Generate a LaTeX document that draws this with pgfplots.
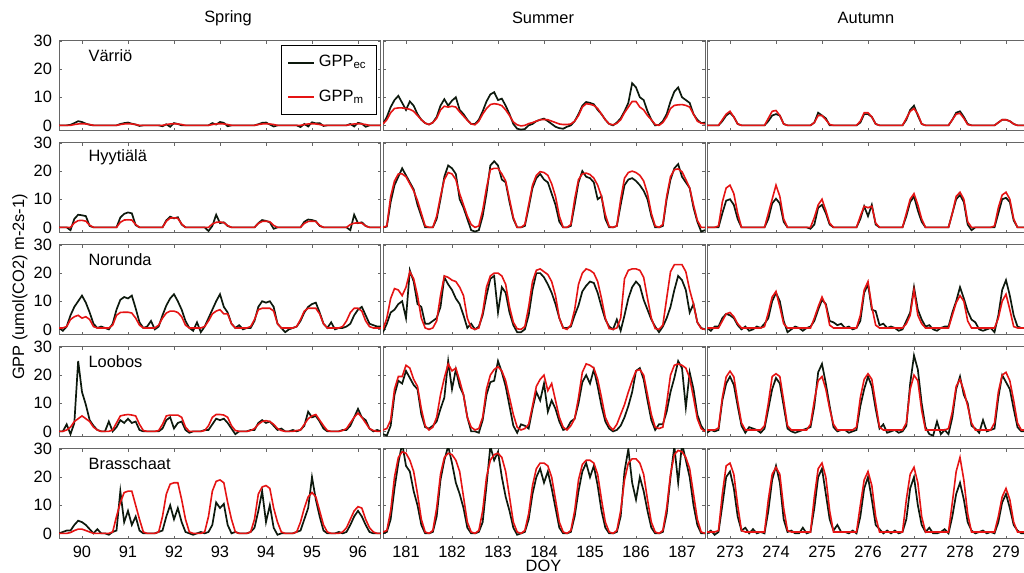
\documentclass[border=0pt]{standalone}
\usepackage{fontspec}
\setmainfont{Liberation Sans}
\usepackage{pgfplots}
\pgfplotsset{compat=1.18}
\definecolor{mred}{rgb}{0.9,0.08,0.08}
\definecolor{mblack}{rgb}{0.05,0.1,0.05}
\newcommand{\fs}{\fontsize{8.2}{9.8}\selectfont}
% one panel: #1 = first DOY of the grid (2-hour steps), #2 = GPP_ec, #3 = GPP_m
\newcommand{\panel}[3]{%
  \addplot[mblack,line width=0.85pt] table[header=false,row sep=\\,x expr=\coordindex/12+#1,y index=0]{#2};
  \addplot[mred,line width=0.8pt] table[header=false,row sep=\\,x expr=\coordindex/12+#1,y index=0]{#3};
}
\pgfplotsset{
  pan/.style={scale only axis,width=161pt,height=45pt,anchor=north west,
    ymin=-2,ymax=30,ytick={0,10,20,30},
    tick align=inside,major tick length=1.5pt,
    axis line style={black!60,line width=0.5pt},
    every tick/.style={black!60,line width=0.4pt},
    tick label style={font=\fs},
    /pgf/number format/assume math mode=true,
    clip=true},
  nox/.style={xticklabels={}},
  noy/.style={yticklabels={}},
  sp/.style={xmin=89.5,xmax=96.5,xtick={90,...,96}},
  su/.style={xmin=180.5,xmax=187.5,xtick={181,...,187}},
  au/.style={xmin=272.5,xmax=279.5,xtick={273,...,279}},
}
\begin{document}
\begin{tikzpicture}
\useasboundingbox (0,0) rectangle (512pt,286.5pt);

% ---------------- Varrio ----------------
\begin{axis}[pan,sp,nox,at={(29.5pt,266pt)},
  legend style={at={(0.988,0.956)},anchor=north east,draw=black,line width=0.5pt,
    font=\fs,row sep=6pt,inner xsep=3pt,inner ysep=3pt,cells={anchor=west}},
  legend image code/.code={\draw[#1] (0pt,0pt) -- (13pt,0pt);}]
\panel{89.5}{
0\\0\\0\\0.2\\0.8\\1.5\\1.2\\0.6\\0.2\\0\\0\\0\\
0\\0\\0\\0\\0.5\\0.8\\1\\0.6\\0.3\\-0.2\\0\\0\\
0\\0\\0\\-0.3\\0.4\\-0.5\\0.8\\0.5\\0\\0\\0\\0\\
0\\0\\0\\0\\0.8\\0.3\\1.2\\0.9\\-0.3\\0\\0\\0\\
0\\0\\0\\0\\0.4\\0.9\\1\\0.3\\-0.4\\0\\0\\0\\
0\\0\\0\\-0.6\\0.5\\-0.4\\1.1\\0.7\\0.8\\-0.2\\0\\0\\
0\\0\\0\\0\\0.5\\-0.4\\0.9\\0.6\\-0.5\\0\\0\\0\\
0\\}{
0\\0\\0\\0\\0.3\\0.5\\0.6\\0.5\\0.3\\0\\0\\0\\
0\\0\\0\\0\\0.3\\0.5\\0.6\\0.5\\0.3\\0\\0\\0\\
0\\0\\0\\0\\0.3\\0.5\\0.6\\0.5\\0.3\\0\\0\\0\\
0\\0\\0\\0\\0.3\\0.5\\0.6\\0.5\\0.3\\0\\0\\0\\
0\\0\\0\\0\\0.3\\0.5\\0.6\\0.5\\0.3\\0\\0\\0\\
0\\0\\0\\0\\0.3\\0.5\\0.6\\0.5\\0.3\\0\\0\\0\\
0\\0\\0\\0\\0.3\\0.5\\0.6\\0.5\\0.3\\0\\0\\0\\
0\\}
\legend{GPP\textsubscript{ec},GPP\textsubscript{m}}
\node[anchor=west,font=\fs] at (rel axis cs:0.07,0.84) {Värriö};
\end{axis}

\begin{axis}[pan,su,nox,noy,at={(191.5pt,266pt)}]
\panel{180.5}{
0.5\\3\\6.5\\9\\10.5\\8\\5.5\\8.5\\7\\4\\2\\0.8\\
0.3\\1\\3\\7\\9.3\\7\\8.8\\10\\5.5\\4\\2\\0.5\\
0.5\\2\\5\\8.5\\11\\11.8\\9\\9.5\\7\\4\\0.5\\-1.2\\
-1.5\\-1.3\\0\\0.5\\1.5\\2\\2.4\\1.5\\0.5\\-0.5\\-1\\-1.2\\
-0.5\\0\\1.5\\4\\7\\8.3\\8\\7.5\\5.5\\4\\2\\0.5\\
0\\1\\2.5\\5\\8\\15\\13.5\\10\\9\\5\\2\\0\\
0.2\\1.5\\4\\8.5\\12\\13.5\\10\\9\\8\\4\\2\\0.8\\
1\\}{
0.5\\2\\4.5\\6\\6.2\\6.2\\6\\5.7\\5\\3.5\\2\\0.8\\
0.3\\1\\2.5\\5.5\\6.8\\6.5\\6.8\\6.5\\4.8\\3.3\\1.8\\0.5\\
0.2\\1.5\\4\\6\\7.4\\7.7\\7.5\\7\\5.5\\3.5\\1.2\\0.2\\
-0.2\\0\\0.6\\1\\1.5\\2\\2.1\\2\\1.5\\1\\0.5\\0.3\\
0.3\\0.5\\1.5\\3.5\\6.5\\7.7\\7.5\\7.1\\6\\4\\2\\0.5\\
0.2\\0.7\\2\\4.5\\6.5\\8.5\\8.5\\6.5\\5.5\\3.5\\2\\0.3\\
0\\1\\3\\6\\7.1\\7.3\\7.4\\7.1\\6.5\\4\\1.5\\0.8\\
0.5\\}
\end{axis}

\begin{axis}[pan,au,nox,noy,at={(353.5pt,266pt)}]
\panel{272.5}{
0\\0\\0\\0\\1.5\\3.5\\4.5\\3\\0.5\\0\\0\\0\\
0\\0\\0\\0\\1.5\\3.5\\4\\3.5\\0.5\\0\\0\\0\\
0\\0\\0\\0\\1\\4.5\\3.5\\2.5\\0\\0\\0\\0\\
0\\0\\0\\0\\1\\4\\4\\3\\0.5\\0\\0\\0\\
0\\0\\0\\0\\2\\5.5\\7\\3.5\\0.5\\0\\0\\0\\
0\\0\\0\\0\\2\\4.5\\5\\3\\0.5\\0\\0\\0\\
0\\0\\0\\0\\1\\2\\2\\1.5\\0.5\\0\\0\\0\\
0\\}{
0\\0\\0\\0\\2\\4\\5\\3\\0.5\\0\\0\\0\\
0\\0\\0\\0\\2.5\\5\\5.3\\3.5\\0.5\\0\\0\\0\\
0\\0\\0\\0\\1\\3.5\\3.5\\2\\0.3\\0\\0\\0\\
0\\0\\0\\0\\1.5\\4.5\\4.5\\3\\0.5\\0\\0\\0\\
0\\0\\0\\0\\2.5\\5\\6\\4\\0.5\\0\\0\\0\\
0\\0\\0\\0\\2\\4\\4.3\\2.5\\0.3\\0\\0\\0\\
0\\0\\0\\0\\1\\2\\2\\1.5\\0.5\\0\\0\\0\\
0\\}
\end{axis}

% ---------------- Hyytiala ----------------
\begin{axis}[pan,sp,nox,at={(29.5pt,215pt)}]
\panel{89.5}{
0\\0\\0\\-1\\3\\4.5\\4.3\\4\\0.5\\0\\0\\0\\
0\\0\\0\\0\\3.5\\4.8\\5.3\\5\\0.8\\0\\0\\0\\
0\\0\\0\\0\\2.5\\3.8\\3.2\\3.6\\1\\0\\0\\0\\
0\\0\\0\\-1.3\\0.5\\4.5\\1.5\\1.8\\0.5\\0\\0\\0\\
0\\0\\0\\0\\1.5\\2.6\\2.3\\1.8\\-0.5\\0\\0\\0\\
0\\0\\0\\0\\2\\2.8\\2.6\\2.2\\0.5\\0\\0\\0\\
0\\0\\0\\0\\-1\\4.5\\1.5\\1.8\\0.5\\0\\0\\0\\
0\\}{
0\\0\\0\\0\\1.6\\2.4\\2.5\\2.2\\0.8\\0\\0\\0\\
0\\0\\0\\0\\1.8\\2.6\\2.7\\2.6\\1\\0\\0\\0\\
0\\0\\0\\0\\2.2\\3.3\\3.4\\3.2\\1.2\\0\\0\\0\\
0\\0\\0\\0\\1.2\\1.8\\1.9\\1.7\\0.6\\0\\0\\0\\
0\\0\\0\\0\\1.4\\2.1\\2.2\\2\\0.7\\0\\0\\0\\
0\\0\\0\\0\\1.4\\2.1\\2.2\\2.1\\0.7\\0\\0\\0\\
0\\0\\0\\0\\1\\1.5\\1.6\\1.5\\0.5\\0\\0\\0\\
0\\}
\node[anchor=west,font=\fs] at (rel axis cs:0.07,0.84) {Hyytiälä};
\end{axis}

\begin{axis}[pan,su,nox,noy,at={(191.5pt,215pt)}]
\panel{180.5}{
0\\0.3\\9\\15\\18\\21\\18.5\\16\\13.5\\8\\4\\0\\
0\\0\\3\\10\\18\\22\\21\\19\\10\\7\\3\\-1\\
-1.5\\-1\\4\\12\\22\\23.5\\22\\17\\16\\9\\3\\0\\
0\\0.5\\7\\14\\17.5\\19\\17\\16\\12\\8\\2\\0\\
0\\0.5\\8\\16\\20\\18\\17.5\\16\\10\\11\\3\\0\\
0\\0.5\\8\\15\\17\\17.5\\16.5\\15\\13\\10\\4\\0\\
0\\0.5\\10\\17\\21\\22.5\\18\\16\\14\\7\\2\\-1.5\\
-1\\}{
0\\0.5\\11\\16.5\\19\\19\\18\\15.5\\13\\9.5\\5\\0.5\\
0\\0\\4\\11\\17\\19.5\\19\\17\\12\\8\\4\\1\\
0\\0.5\\6\\14\\20.5\\21\\21\\19\\16.5\\10\\3.5\\0\\
0\\1\\8\\15\\18.5\\19.8\\19.5\\18.5\\15.5\\11\\4\\0\\
0\\1\\10\\17\\19\\19.3\\18.8\\17.5\\15\\11\\4.5\\0.3\\
0\\0.5\\10\\17.5\\19.5\\20\\19.5\\18.5\\16.5\\12\\5\\0.5\\
0\\1\\11\\18\\20.5\\20.8\\19.8\\17\\14\\8\\2.5\\0\\
0\\}
\end{axis}

\begin{axis}[pan,au,nox,noy,at={(353.5pt,215pt)}]
\panel{272.5}{
0\\0\\0\\0\\5\\9.5\\10\\8\\3\\0\\0\\0\\
0\\0\\0\\0\\3\\8.5\\10.2\\8.5\\2\\0\\0\\0\\
0\\0\\0\\-0.5\\1\\7\\8\\5\\1\\0\\0\\0\\
0\\0\\0\\0\\3\\7.5\\4\\8\\1\\0\\0\\0\\
0\\0\\0\\0\\4\\9\\11\\6\\2\\0\\0\\0\\
0\\0\\0\\0\\5\\10\\11.5\\9\\1\\-1\\0\\0\\
0\\0\\0\\0\\5\\10\\10.5\\9\\2.5\\0\\0\\0\\
0\\}{
0\\0\\0\\0.5\\9\\14\\15\\12\\5\\0\\0\\0\\
0\\0\\0\\0\\5\\10\\15\\11\\3\\0\\0\\0\\
0\\0\\0\\0\\3.5\\8\\10\\6\\1.5\\0\\0\\0\\
0\\0\\0\\0\\4\\7.5\\7\\7.5\\1.5\\0\\0\\0\\
0\\0\\0\\0\\5\\10\\12\\8\\3\\0\\0\\0\\
0\\0\\0\\0\\5\\11\\12.5\\10\\2\\0\\0\\0\\
0\\0\\0\\0.5\\7\\11.5\\12.5\\10\\3\\0\\0\\0\\
0\\}
\end{axis}

% ---------------- Norunda ----------------
\begin{axis}[pan,sp,nox,at={(29.5pt,164pt)}]
\panel{89.5}{
0.5\\-0.5\\1\\5\\8\\10\\12\\9.5\\6\\2\\0.5\\1\\
0.5\\0\\2\\7\\10.5\\11.5\\11\\12\\7.5\\2.5\\0.5\\1\\
3\\0\\1\\5\\8.5\\11\\12.5\\10\\7\\3\\0.5\\-0.5\\
2.5\\-1\\1\\4\\7\\10\\12.5\\8\\6\\2\\0.5\\1.5\\
0\\0.5\\0.5\\3\\8\\10\\9.5\\10\\8\\2\\0.5\\-1\\
0\\0.5\\1\\3\\6\\8\\9\\9.5\\6\\2\\0.5\\2.5\\
0\\0.5\\0.5\\1\\2\\5\\7\\8\\5\\2\\1.5\\1\\
1\\}{
0.5\\0.5\\1\\3.5\\4.5\\5\\4\\4.5\\3.5\\1\\0.5\\0.5\\
0.5\\0.5\\1.5\\5\\6\\6.1\\6.1\\5.8\\4\\1.5\\0.5\\0.5\\
0.5\\0.5\\1.5\\4\\5.8\\6.5\\6.5\\6\\4.5\\1.5\\0.5\\0.5\\
0.5\\0.5\\1\\3\\5.5\\6.5\\7\\5.5\\5.5\\2\\0.5\\0.5\\
0.5\\0.5\\1\\3.5\\7\\7.5\\7.5\\7.5\\6.5\\2\\0.5\\0.5\\
0.5\\0.5\\1\\3.5\\6.5\\7.5\\7.5\\7.5\\5.5\\2\\0.5\\0.5\\
0.5\\0.5\\1\\3\\6\\7.5\\7.5\\6.5\\3\\1\\0.5\\0.5\\
0.5\\}
\node[anchor=west,font=\fs] at (rel axis cs:0.07,0.84) {Norunda};
\end{axis}

\begin{axis}[pan,su,nox,noy,at={(191.5pt,164pt)}]
\panel{180.5}{
-1\\2\\6\\7\\9\\10\\4\\21\\17\\9\\8\\2\\
2\\3\\4\\8\\18.5\\16\\14\\11\\9\\5\\0.5\\2\\
0\\1\\5\\12\\18\\19\\6\\15\\13\\6\\1.5\\-1\\
-1\\0\\5\\14\\20\\20\\18.5\\16\\13\\9\\4\\0.5\\
0.5\\1\\5\\8.5\\13.5\\15.5\\17\\16.5\\13\\8\\3.5\\1\\
0\\3.5\\-0.5\\5\\11\\15\\17\\15.5\\10.5\\7\\3.5\\1\\
-1\\1\\4\\8\\14\\19\\17.5\\14\\6\\9\\2.5\\0.5\\
0\\}{
0\\4\\11\\14.5\\14\\12\\15\\20.5\\18\\12\\4\\0.5\\
0\\0.5\\3\\12\\19\\18.5\\17.5\\17\\15\\12\\4\\0.5\\
0\\0.5\\6\\15\\19\\20\\20\\19\\16\\8\\2.5\\0.2\\
0\\1\\8\\17\\21\\21.5\\20.5\\19.5\\17\\12\\4\\0.5\\
0\\1.5\\7\\16\\20\\21.5\\21\\20\\17\\11\\4\\0.3\\
0\\0.5\\4\\18\\21\\21.5\\21.5\\21\\18.5\\11\\4\\0.3\\
0\\1.5\\11\\20.5\\23\\23\\23\\20.5\\14\\9\\2.5\\0.3\\
0\\}
\end{axis}

\begin{axis}[pan,au,nox,noy,at={(353.5pt,164pt)}]
\panel{272.5}{
0.5\\-0.5\\1\\1\\4\\5.5\\5\\4\\1.5\\0\\1\\-0.5\\
0\\1\\0.5\\2\\4\\10\\13\\10\\3\\-1\\0\\1\\
0.5\\-0.5\\0.5\\1\\3\\7\\10.5\\9\\3\\2.5\\1.5\\2\\
0.5\\1\\0\\0.5\\3\\13\\16\\7\\6.5\\1.5\\2\\0.5\\
1\\0.5\\-0.5\\0\\3\\6\\15\\7\\3.5\\1\\1.5\\0\\
-0.5\\0.5\\1\\1\\6\\10\\15\\11\\6.5\\3.5\\2.5\\0\\
-0.5\\0\\0.5\\-1\\5\\14\\17.5\\12\\5\\1\\0.5\\0.5\\
0.5\\}{
0.5\\0.5\\0.5\\0.5\\3\\5.5\\6\\4.5\\2\\0.5\\0.5\\0.5\\
0.5\\0.5\\0.5\\1\\6\\11.5\\13.5\\8\\2\\0.5\\0.5\\0.5\\
0.5\\0.5\\0.5\\0.5\\4\\8\\11.5\\8.5\\1.5\\0.5\\0.5\\0.5\\
0.5\\0.5\\0.5\\0.5\\5\\14\\17\\8\\1.5\\0.5\\0.5\\0.5\\
0.5\\0.5\\0.5\\0.5\\2\\5\\14\\5\\2\\0.5\\0.5\\0.5\\
0.5\\0.5\\0.5\\0.5\\5\\9.5\\12\\10\\3\\0.5\\0.5\\0.5\\
0.5\\0.5\\0.5\\0.5\\4\\10\\12.5\\7\\1\\0.5\\0.5\\0.5\\
0.7\\}
\end{axis}

% ---------------- Loobos ----------------
\begin{axis}[pan,sp,nox,at={(29.5pt,113pt)}]
\panel{89.5}{
0\\0\\2.5\\-1\\3\\25\\14\\9.5\\4\\2\\0.5\\0\\
0\\3.5\\0\\1.5\\4\\3\\4.5\\3\\3.5\\0.5\\0\\0\\
0\\0\\0\\1\\4\\5\\1\\3\\3.5\\0.5\\-0.5\\0\\
0\\0\\0.5\\0.5\\2.5\\4.5\\4\\4.5\\3\\1\\-1\\0\\
0\\0\\0.5\\0.5\\3\\4\\3\\3.5\\2\\0.5\\1\\0\\
0\\0.5\\0\\0.5\\2\\7\\5\\5.5\\3.5\\1\\0\\0\\
0\\0\\0.5\\0.5\\2\\5\\8\\5\\4\\1\\0\\0.5\\
0\\}{
0\\0\\0.5\\1.5\\3.5\\4.5\\5.5\\4.5\\3.5\\1.5\\0.5\\0\\
0\\0\\0.5\\3\\5.5\\5.8\\6\\5.8\\5.5\\2.5\\0.3\\0\\
0\\0\\0.3\\2.5\\5.5\\5.8\\5.8\\5.8\\5\\1.5\\0\\0\\
0\\0\\0.3\\2\\5\\6\\6\\5.8\\5\\2\\0.3\\0\\
0\\0\\0.3\\1\\2.5\\3.5\\3.8\\3.5\\2.5\\1\\0.3\\0\\
0\\0\\0.3\\0.5\\2.5\\4.5\\5.5\\6\\4\\2\\0.3\\0\\
0\\0\\0.3\\1\\3\\5\\6.5\\5\\3\\1\\0.3\\0\\
0\\}
\node[anchor=west,font=\fs] at (rel axis cs:0.07,0.84) {Loobos};
\end{axis}

\begin{axis}[pan,su,nox,noy,at={(191.5pt,113pt)}]
\panel{180.5}{
-1\\-1.5\\2\\13\\18\\17\\21.5\\19\\16.5\\15\\6\\1.5\\
1\\2\\3.5\\8\\12\\25\\15\\22\\16\\13\\5\\0\\
0\\-0.5\\4\\13\\17.5\\18\\25\\21\\16\\9\\2\\-0.5\\
2.5\\2\\1\\8\\14\\11\\17\\7\\11\\8\\3.5\\0.5\\
1\\3.5\\4.5\\10\\17.5\\20\\17\\22\\16\\9\\3.5\\1\\
0\\0.5\\2\\5\\9\\14\\21.5\\22.5\\18.5\\11\\4\\0.5\\
2.5\\2.5\\7\\14\\19\\25\\22.5\\8.5\\21\\15\\6\\2\\
0\\}{
0.5\\1\\4\\15\\19.5\\19.5\\23.5\\22.5\\18.5\\16\\8\\2\\
0.5\\1.5\\5\\13\\19\\24\\21.5\\22.5\\18\\13\\5\\1.5\\
0.5\\1\\5\\15\\20\\22\\23\\21.5\\18\\12\\6\\1.5\\
0.5\\1\\2.5\\9\\16\\18.5\\20\\14.5\\17\\11\\5\\1.5\\
0.5\\2\\4.5\\12\\21\\24\\23.5\\22.5\\18.5\\12\\5\\2\\
0.5\\2.5\\6\\9.5\\14\\18\\21.5\\22\\20\\13\\6\\1.5\\
1\\1.5\\10\\20\\23.5\\24\\23.5\\22.5\\19\\12\\4.5\\1\\
0\\}
\end{axis}

\begin{axis}[pan,au,nox,noy,at={(353.5pt,113pt)}]
\panel{272.5}{
-0.5\\0.5\\0\\0.5\\11\\17\\19.5\\16.5\\9\\2\\-0.5\\1.5\\
1\\0.5\\-0.5\\1\\8\\15\\19\\17\\9\\1\\0\\-0.5\\
0\\0.5\\1\\1.5\\9\\21\\24\\17\\9\\1.5\\0\\0.5\\
0.5\\-0.5\\0\\0.5\\9\\15\\19.5\\16\\8\\1\\2.5\\-0.5\\
0\\0.5\\-0.5\\0\\2\\17\\27\\22\\10\\1.5\\-1\\-1.5\\
3.5\\-1\\0.5\\-1\\5\\15\\19.5\\13\\10\\2\\1\\-0.5\\
4\\0\\0.5\\1\\12\\20\\17.5\\15\\8\\1.5\\0\\0\\
0\\}{
0.5\\0.5\\0.5\\1.2\\12\\19.4\\21.4\\19.4\\10.8\\3\\0.5\\0.5\\
0.5\\0.5\\0.5\\2\\10\\19.5\\20.5\\19.5\\11\\2\\0.5\\0.5\\
0.5\\0.5\\0.5\\2.5\\11\\18\\19.5\\15\\8\\2.5\\0.5\\0.5\\
0.5\\0.5\\0.5\\1.5\\12\\18.5\\20.5\\18.5\\10\\1.5\\0.5\\0.5\\
0.5\\0.5\\0.5\\0.5\\3\\15\\20\\18\\7.5\\0.5\\0.5\\0.5\\
0.5\\0.5\\0.5\\1\\7\\16\\18.5\\14.5\\9\\3\\0.5\\0.5\\
0.5\\0.5\\0.5\\3\\14\\20\\21\\18\\11\\3\\0.5\\0.5\\
0.5\\}
\end{axis}

% ---------------- Brasschaat ----------------
\begin{axis}[pan,sp,at={(29.5pt,62pt)}]
\panel{89.5}{
0\\0.5\\1\\1\\3\\4.5\\4\\3\\1.5\\0\\1.5\\0\\
0\\-0.5\\0.5\\1\\15\\4\\8\\3\\6\\1\\0\\0\\
0\\0\\0.5\\1\\6\\10\\5\\9\\4\\0.5\\0\\-0.5\\
0\\0.5\\0\\0.5\\3\\11\\9\\10.5\\3\\0\\0.5\\0\\
0\\0\\0.5\\2\\8\\15\\4\\10\\2\\-0.5\\0\\0\\
0\\0\\0.5\\1\\5\\9\\20\\12\\6\\1\\0\\0\\
0\\0.5\\0\\0.5\\3\\6\\8\\6\\3\\0.5\\0\\0\\
0\\}{
0\\0\\0\\0.3\\1\\1.5\\1.5\\1\\0.5\\0\\0\\0\\
0\\0\\0.5\\6\\11\\14.5\\15\\15\\10\\5\\0.5\\0\\
0\\0\\0.5\\6\\14\\17.5\\18\\18\\12\\5\\0.5\\0\\
0\\0\\0.5\\6\\15\\18.5\\19\\18\\11\\5\\0.5\\0\\
0\\0\\0.5\\5\\14\\16.5\\17\\16\\9\\4\\0.5\\0\\
0\\0\\0.5\\4\\9\\13\\14.5\\13\\8\\3\\0.5\\0\\
0\\0\\0.5\\2\\5\\8\\9.5\\9\\5\\2\\0.5\\0\\
0\\}
\node[anchor=west,font=\fs] at (rel axis cs:0.07,0.84) {Brasschaat};
\end{axis}

\begin{axis}[pan,su,noy,at={(191.5pt,62pt)}]
\panel{180.5}{
0\\0.5\\5\\16\\25\\32\\24\\22\\15\\10\\3\\0\\
0\\0.5\\6\\19\\26\\31\\25\\18\\14\\9\\2\\0\\
0\\0.5\\4\\17\\31\\26\\29\\20\\13\\8\\2\\-0.5\\
0\\0.5\\5\\14\\20\\23\\18\\22\\16\\9\\2\\0\\
0\\0.5\\6\\15\\22\\25\\20\\24\\17\\8\\2\\0\\
0\\0.5\\6\\22\\30\\18\\12\\20\\15\\8\\2\\0\\
0\\0.5\\7\\20\\31\\18\\32\\26\\20\\10\\3\\0\\
0\\}{
0.5\\1\\8\\20\\27\\29\\28.5\\26\\22\\14\\5\\0.5\\
0\\1\\9\\21\\27\\28.5\\28\\26\\22\\13\\4\\0.5\\
0\\1\\8\\20\\26\\28\\28.5\\27\\22\\13\\4\\0.5\\
0\\1\\7\\17\\23\\25\\25\\24\\20\\12\\4\\0.5\\
0\\1\\8\\19\\24.5\\26\\26\\25\\21\\12\\4\\0.5\\
0\\1\\8\\19\\25\\26.5\\26.5\\25\\21\\12\\4\\0.5\\
0\\1\\9\\21\\28\\29.5\\29\\27\\23\\14\\5\\0.5\\
0\\}
\end{axis}

\begin{axis}[pan,au,noy,at={(353.5pt,62pt)}]
\panel{272.5}{
0\\1\\-0.5\\0.5\\10\\20\\22\\16\\6\\1\\2\\0\\
1.5\\0\\0.5\\0\\8\\19\\24\\18\\5\\0.5\\1\\0\\
0\\2\\0\\0.5\\9\\20\\23\\14\\5\\1\\3\\0.5\\
0.5\\0\\1\\0\\6\\16\\20\\12\\3\\1.5\\0\\1\\
0\\1\\0\\0.5\\5\\16\\20\\10\\3\\0.5\\2\\0\\
0\\0.5\\1.5\\0\\6\\14\\18\\12\\4\\1\\0\\0.5\\
1\\0\\0.5\\0\\4\\11\\14\\9\\3\\1\\0\\0\\
0\\}{
0.5\\0.5\\0.5\\1\\14\\24\\25\\21\\10\\1\\0.5\\0.5\\
0.5\\0.5\\0.5\\0.5\\12\\21\\23.5\\21\\9\\1\\0.5\\0.5\\
0.5\\0.5\\0.5\\0.5\\13\\23\\25\\20\\8\\0.5\\0.5\\0.5\\
0.5\\0.5\\0.5\\0.5\\10\\19\\22\\17\\6\\0.5\\0.5\\0.5\\
0.5\\0.5\\0.5\\0.5\\12\\21\\23.5\\18\\6\\0.5\\0.5\\0.5\\
0.5\\0.5\\0.5\\0.5\\11\\22\\27\\19\\7\\0.5\\0.5\\0.5\\
0.5\\0.5\\0.5\\0.5\\6\\13\\16\\12\\4\\0.5\\0.5\\0.5\\
0.5\\}
\end{axis}

% titles and axis labels
\node[font=\fs] at (114pt,277.5pt) {Spring};
\node[font=\fs] at (271.5pt,277.5pt) {Summer};
\node[font=\fs] at (433pt,277.5pt) {Autumn};
\node[font=\fs,rotate=90] at (10pt,143pt) {GPP (umol(CO2) m-2s-1)};
\node[font=\fs,anchor=north,inner sep=0pt] at (271.75pt,6.5pt) {DOY};
\end{tikzpicture}
\end{document}
